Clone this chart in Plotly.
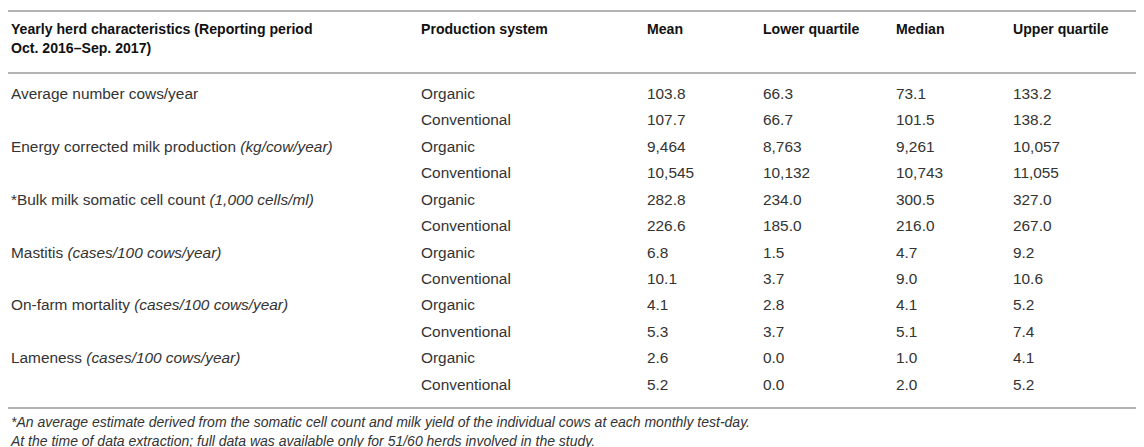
import plotly.graph_objects as go

# ---- data ----
header_labels = ["Yearly herd characteristics (Reporting period", "Production system",
                 "Mean", "Lower quartile", "Median", "Upper quartile"]
header_line2 = "Oct. 2016–Sep. 2017)"
characteristics = [
    "Average number cows/year",
    "Energy corrected milk production <i>(kg/cow/year)</i>",
    "*Bulk milk somatic cell count <i>(1,000 cells/ml)</i>",
    "Mastitis <i>(cases/100 cows/year)</i>",
    "On-farm mortality <i>(cases/100 cows/year)</i>",
    "Lameness <i>(cases/100 cows/year)</i>",
]
value_formats = ["{:.1f}", "{:,.0f}", "{:.1f}", "{:.1f}", "{:.1f}", "{:.1f}"]
systems = ["Organic", "Conventional"]
mean_vals = [103.8, 107.7, 9464, 10545, 282.8, 226.6, 6.8, 10.1, 4.1, 5.3, 2.6, 5.2]
lower_q = [66.3, 66.7, 8763, 10132, 234.0, 185.0, 1.5, 3.7, 2.8, 3.7, 0.0, 0.0]
median_vals = [73.1, 101.5, 9261, 10743, 300.5, 216.0, 4.7, 9.0, 4.1, 5.1, 1.0, 2.0]
upper_q = [133.2, 138.2, 10057, 11055, 327.0, 267.0, 9.2, 10.6, 5.2, 7.4, 4.1, 5.2]
footnotes = [
    "*An average estimate derived from the somatic cell count and milk yield of the individual cows at each monthly test-day.",
    "At the time of data extraction; full data was available only for 51/60 herds involved in the study.",
]

# ---- layout constants ----
W, H = 1144, 447
col_x = [3, 413, 639, 755, 888, 1005]
header_y = 22
header_y2 = 41
row_y0 = 87
row_dy = 26.45
rule_ys = [3, 65, 400]
foot_y = [415, 434]
FONT = "Liberation Sans, Arial, Helvetica, sans-serif"
FS = 15.4
FS_HDR = 14.1
FS_FOOT = 14
TXT = "#333333"
HDR = "#111111"
RULE = "#b3b3b3"

n_rows = len(characteristics) * len(systems)
row_ys = [row_y0 + i * row_dy for i in range(n_rows)]

fig = go.Figure()

def add_text(xs, ys, texts, color, bold=False, size=FS):
    fig.add_trace(go.Scatter(
        x=xs, y=ys, text=[f"<b>{t}</b>" if bold else t for t in texts],
        mode="text", textposition="middle right", marker=dict(size=0),
        textfont=dict(family=FONT, size=size, color=color),
        hoverinfo="skip", showlegend=False, cliponaxis=False))

# headers
add_text(col_x, [header_y] * len(header_labels), header_labels, HDR, bold=True, size=FS_HDR)
add_text([col_x[0]], [header_y2], [header_line2], HDR, bold=True, size=FS_HDR)

# characteristic labels (first row of each group)
add_text([col_x[0]] * len(characteristics), row_ys[::2], characteristics, TXT)

# production system
add_text([col_x[1]] * n_rows, row_ys, systems * len(characteristics), TXT)

# numeric columns
for ci, vals in enumerate([mean_vals, lower_q, median_vals, upper_q]):
    txt = [value_formats[i // 2].format(v) for i, v in enumerate(vals)]
    add_text([col_x[2 + ci]] * n_rows, row_ys, txt, TXT)

# footnotes
add_text([col_x[0]] * len(footnotes), foot_y, [f"<i>{t}</i>" for t in footnotes], TXT, size=FS_FOOT)

for y in rule_ys:
    fig.add_shape(type="line", x0=0, x1=W - 2, y0=y, y1=y, xref="x", yref="y",
                  line=dict(color=RULE, width=2))

fig.update_layout(
    width=W, height=H, margin=dict(l=0, r=0, t=0, b=0),
    paper_bgcolor="white", plot_bgcolor="white",
    xaxis=dict(range=[0, W], visible=False, fixedrange=True),
    yaxis=dict(range=[H, 0], visible=False, fixedrange=True),
)
fig.write_html("out.html", config={"displayModeBar": False})
